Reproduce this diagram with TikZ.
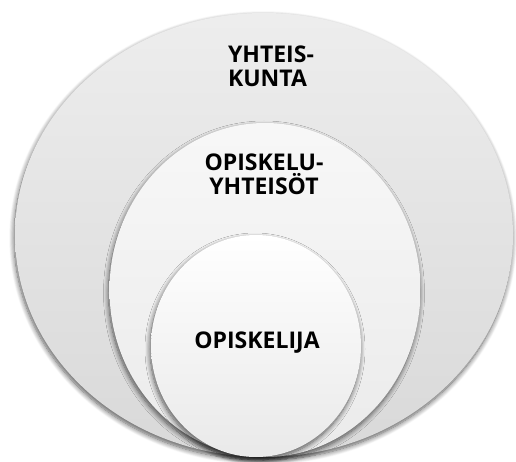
\documentclass[tikz,border=0pt]{standalone}
\usepackage{fontspec}
\setmainfont{Open Sans}
\usepackage{tikz}
\usetikzlibrary{positioning, shapes.geometric, shadows.blur}

\begin{document}
\begin{tikzpicture}[x=1pt, y=1pt,
    ring/.style={ellipse, inner sep=0pt, shading=axis, shading angle=0,
      blur shadow={shadow xshift=-1pt, shadow yshift=-3pt, shadow blur radius=5pt, shadow blur steps=10, shadow opacity=65}},
    label/.style={font=\fontsize{23}{24}\selectfont\bfseries, text=black}]
      \useasboundingbox (0, 0) rectangle (516, 461);

      % Rings, outer to inner
      \node[ring, minimum width=498pt, minimum height=444pt, top color=gray!14, bottom color=gray!30] (yhteiskunta) at (264, 226) {};
      \node[ring, minimum width=311pt, minimum height=334pt, top color=gray!6, bottom color=gray!16] (yhteisot) at (265, 171) {};
      \node[ring, minimum width=210pt, minimum height=222pt, top color=white, bottom color=gray!17] (opiskelija) at (256, 115) {};

      % Labels
      \node[label, align=left] (t1) at (271, 395) {YHTEIS-\\KUNTA};
      \node[label, align=center] (t2) at (264, 287) {OPISKELU-\\YHTEISÖT};
      \node[label] (t3) at (257, 118) {OPISKELIJA};
\end{tikzpicture}
\end{document}
